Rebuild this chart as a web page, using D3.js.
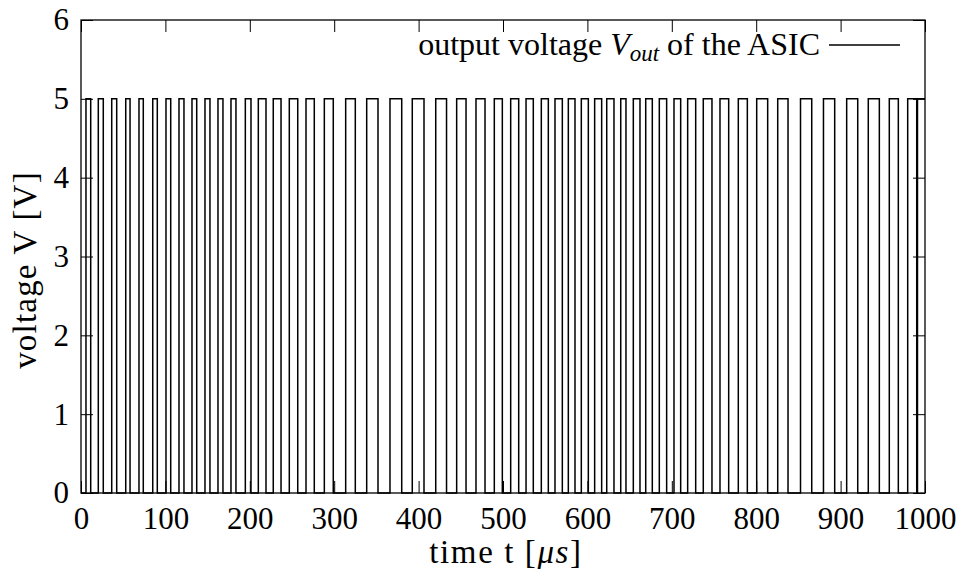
<!DOCTYPE html>
<html lang="en">
<head>
<meta charset="UTF-8"/>
<title>ASIC output voltage</title>
<script src="https://d3js.org/d3.v7.min.js"></script>
<style>
    body { margin: 0; background: white; }
    text { font-family: "Liberation Serif", "DejaVu Serif", serif; fill: black; }
</style>
</head>
<body>
<script>
// times of the rising and falling edges [us]
var riseTimes = [5.9, 20.5, 36.4, 53.0, 68.7, 85.0, 100.7, 116.1, 131.5, 146.9,
                 162.3, 177.7, 194.7, 210.1, 227.8, 246.8, 266.6, 288.3, 313.6, 338.5,
                 366.1, 392.5, 420.3, 445.1, 468.0, 489.7, 509.1, 527.3, 545.4, 561.6,
                 577.4, 592.8, 608.6, 622.9, 639.5, 654.4, 669.1, 685.2, 702.6, 718.8,
                 737.3, 757.1, 778.8, 800.6, 825.5, 852.5, 879.7, 907.2, 932.8, 957.7,
                 979.5, 991.1];
var fallTimes = [11.5, 26.4, 42.3, 58.1, 73.8, 90.4, 106.3, 122.0, 137.1, 152.8,
                 168.2, 183.6, 201.4, 219.2, 237.0, 256.8, 276.4, 298.9, 325.0, 351.9,
                 380.0, 406.4, 433.1, 456.2, 478.7, 499.2, 518.6, 535.9, 553.7, 570.3,
                 585.3, 601.1, 616.9, 631.5, 645.7, 662.3, 676.9, 693.9, 710.5, 728.3,
                 747.6, 767.4, 789.5, 813.6, 837.7, 865.8, 893.0, 920.3, 945.9, 968.4,
                 990.2];
var highLevel = 5;
var lowLevel = 0;
var xTicks = [0, 100, 200, 300, 400, 500, 600, 700, 800, 900, 1000];
var yTicks = [0, 1, 2, 3, 4, 5, 6];

var w = 964, h = 569;
var margin = {left: 81, right: 39, top: 20, bottom: 76};
var pw = w - margin.left - margin.right;
var ph = h - margin.top - margin.bottom;

// edge list for a step curve
var edges = [[0, lowLevel]];
riseTimes.forEach(function(r, i) {
    edges.push([r, highLevel]);
    if (i < fallTimes.length) edges.push([fallTimes[i], lowLevel]);
});
edges.push([1000, edges[edges.length - 1][1]]);

var xScale = d3.scaleLinear().domain([0, 1000]).range([0, pw]);
var yScale = d3.scaleLinear().domain([0, 6]).range([ph, 0]);

var svg = d3.select("body").append("svg")
    .attr("width", w)
    .attr("height", h);

var g = svg.append("g")
    .attr("transform", "translate(" + margin.left + "," + margin.top + ")");

// axes with inward ticks on all four sides
var fs = 31;
var axBottom = g.append("g")
    .attr("transform", "translate(0," + ph + ")")
    .call(d3.axisBottom(xScale).tickValues(xTicks).tickSize(-12).tickPadding(14).tickFormat(d3.format("d")));
var axTop = g.append("g")
    .call(d3.axisTop(xScale).tickValues(xTicks).tickSize(-12).tickFormat(""));
var axLeft = g.append("g")
    .call(d3.axisLeft(yScale).tickValues(yTicks).tickSize(-12).tickPadding(12).tickFormat(d3.format("d")));
var axRight = g.append("g")
    .attr("transform", "translate(" + pw + ",0)")
    .call(d3.axisRight(yScale).tickValues(yTicks).tickSize(-12).tickFormat(""));

[axBottom, axTop, axLeft, axRight].forEach(function(a) {
    a.select(".domain").remove();
    a.selectAll(".tick line").attr("stroke", "black").attr("stroke-width", 1);
    a.selectAll("text").attr("font-size", fs).attr("font-family", "Liberation Serif").attr("fill", "black");
});

var line = d3.line()
    .x(function(d) { return xScale(d[0]); })
    .y(function(d) { return yScale(d[1]); })
    .curve(d3.curveStepAfter);

g.append("path")
    .datum(edges)
    .attr("fill", "none")
    .attr("stroke", "black")
    .attr("stroke-width", 1.5)
    .attr("d", line);

g.append("rect")
    .attr("width", pw)
    .attr("height", ph)
    .attr("fill", "none")
    .attr("stroke", "black")
    .attr("stroke-width", 1.3);

// legend
var legText = g.append("text")
    .attr("x", 739)
    .attr("y", 35)
    .attr("text-anchor", "end")
    .attr("font-size", 32);
legText.append("tspan").text("output voltage ");
legText.append("tspan").attr("font-style", "italic").text("V");
legText.append("tspan").attr("font-style", "italic").attr("font-size", 23).attr("dy", 6).text("out");
legText.append("tspan").attr("dy", -6).text(" of the ASIC");

g.append("line")
    .attr("x1", 748).attr("x2", 819)
    .attr("y1", 25).attr("y2", 25)
    .attr("stroke", "black")
    .attr("stroke-width", 1.5);

// axis titles
var xl = svg.append("text")
    .attr("x", 506)
    .attr("y", 563)
    .attr("text-anchor", "middle")
    .attr("font-size", 33)
    .attr("letter-spacing", 1.6);
xl.append("tspan").text("time t [");
xl.append("tspan").attr("font-style", "italic").text("\u03bcs");
xl.append("tspan").text("]");

svg.append("text")
    .attr("transform", "translate(36," + 270 + ") rotate(-90)")
    .attr("text-anchor", "middle")
    .attr("font-size", 33)
    .attr("letter-spacing", 1.2)
    .text("voltage V [V]");
</script>
</body>
</html>
